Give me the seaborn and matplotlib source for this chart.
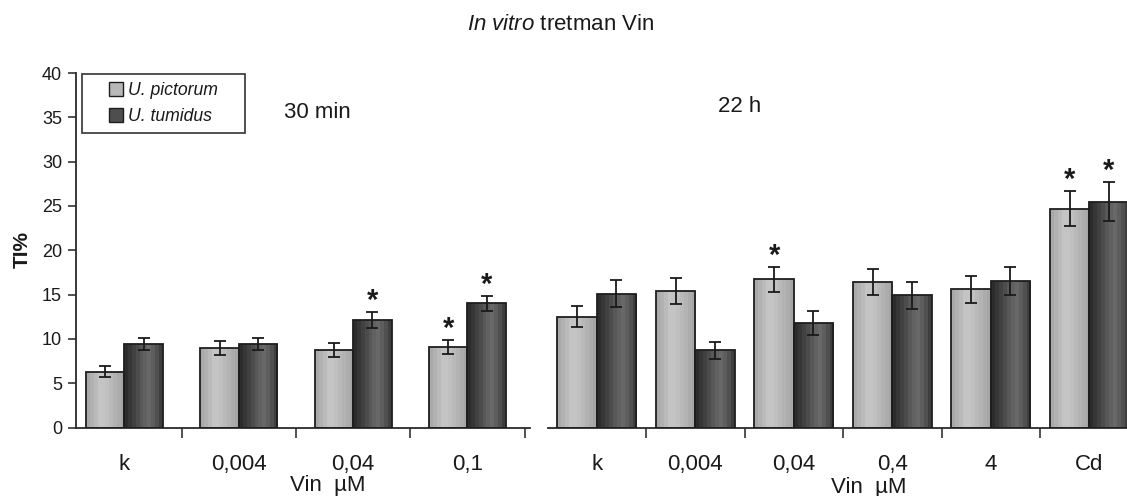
import numpy as np
import pandas as pd
import matplotlib
matplotlib.use("Agg")
import matplotlib.pyplot as plt
from matplotlib.colors import LinearSegmentedColormap
from matplotlib.lines import Line2D
import seaborn as sns

# ---------------- data ----------------
species = ["U. pictorum", "U. tumidus"]

cats_30 = ["k", "0,004", "0,04", "0,1"]
pict_30 = [6.3, 9.0, 8.7, 9.1]
pict_30_err = [0.6, 0.8, 0.8, 0.8]
tum_30 = [9.4, 9.4, 12.1, 14.0]
tum_30_err = [0.7, 0.7, 0.9, 0.8]
stars_30 = [("0,04", "U. tumidus"), ("0,1", "U. pictorum"), ("0,1", "U. tumidus")]

cats_22 = ["k", "0,004", "0,04", "0,4", "4", "Cd"]
pict_22 = [12.5, 15.4, 16.7, 16.4, 15.6, 24.7]
pict_22_err = [1.2, 1.5, 1.4, 1.5, 1.5, 2.0]
tum_22 = [15.1, 8.7, 11.8, 14.9, 16.5, 25.5]
tum_22_err = [1.5, 1.0, 1.4, 1.5, 1.6, 2.2]
stars_22 = [("0,04", "U. pictorum"), ("Cd", "U. pictorum"), ("Cd", "U. tumidus")]

yticks = [0, 5, 10, 15, 20, 25, 30, 35, 40]

# ---------------- style ----------------
sns.set_theme(style="white")
plt.rcParams["font.family"] = ["Liberation Sans", "DejaVu Sans"]
plt.rcParams["mathtext.fontset"] = "custom"
plt.rcParams["mathtext.rm"] = "Liberation Sans"
plt.rcParams["mathtext.it"] = "Liberation Sans:italic"

TXT = "#1a1a1a"
light_stops = ["#a9a9a9", "#b6b6b6", "#c4c4c4", "#c4c4c4", "#b9b9b9", "#b0b0b0", "#a6a6a6"]
dark_stops = ["#2c2c2c", "#3c3c3c", "#4c4c4c", "#5e5e5e", "#686868", "#5a5a5a", "#3e3e3e"]
cmaps = {
    "U. pictorum": LinearSegmentedColormap.from_list("lg", light_stops, N=10),
    "U. tumidus": LinearSegmentedColormap.from_list("dg", dark_stops, N=10),
}
solid = {"U. pictorum": "#b8b8b8", "U. tumidus": "#4e4e4e"}

W, H = 1127, 496
fig = plt.figure(figsize=(W / 100, H / 100), dpi=100)

base_px = 427.5
top_px = 73
bottom = (H - base_px) / H
height = (base_px - top_px) / H

ax1 = fig.add_axes([76 / W, bottom, 454 / W, height])
ax2 = fig.add_axes([547.5 / W, bottom, (1138.5 - 547.5) / W, height])


def make_df(cats, p, pe, t, te):
    rows = []
    for c, v, e in zip(cats, p, pe):
        rows.append((c, species[0], v, e))
    for c, v, e in zip(cats, t, te):
        rows.append((c, species[1], v, e))
    return pd.DataFrame(rows, columns=["cat", "species", "val", "err"])


def draw_panel(ax, df, cats, width, stars, xlim):
    sns.barplot(data=df, x="cat", y="val", hue="species", order=cats,
                hue_order=species, palette=solid, errorbar=None,
                width=width, edgecolor="#1e1e1e", linewidth=1.3,
                legend=False, ax=ax)
    for sp, cont in zip(species, ax.containers):
        sub = df[df.species == sp].set_index("cat").loc[cats]
        xs, hs = [], []
        for bar in cont:
            x0, w, h = bar.get_x(), bar.get_width(), bar.get_height()
            grad = np.linspace(0, 1, 256).reshape(1, -1)
            im = ax.imshow(grad, cmap=cmaps[sp], extent=[x0, x0 + w, 0, h],
                           aspect="auto", zorder=2, interpolation="nearest")
            im.set_clip_path(bar)
            bar.set_facecolor("none")
            bar.set_zorder(3)
            xs.append(x0 + w / 2)
            hs.append(h)
        ax.errorbar(xs, hs, yerr=sub["err"].values, fmt="none",
                    ecolor="#1a1a1a", elinewidth=1.3, capsize=4,
                    capthick=1.3, zorder=5)
        for (c, s) in stars:
            if s == sp:
                i = cats.index(c)
                ax.text(xs[i], hs[i] + sub["err"].values[i] + 0.35, "*",
                        ha="center", va="baseline", fontsize=21,
                        fontweight="bold", color=TXT, zorder=6)
    ax.set_xlim(*xlim)
    ax.set_ylim(0, 40)
    ax.set_xlabel("")
    ax.set_ylabel("")
    n = len(cats)
    ax.set_xticks(range(n))
    ax.set_xticklabels(cats, fontsize=16, color=TXT)
    ax.set_xticks([i + 0.5 for i in range(n)], minor=True)
    ax.tick_params(axis="x", which="major", length=0, pad=19, bottom=True)
    ax.tick_params(axis="x", which="minor", length=7, width=1.2,
                   color="#333333", direction="out", bottom=True)
    for s in ["top", "right"]:
        ax.spines[s].set_visible(False)
    ax.spines["bottom"].set_color("#2a2a2a")
    ax.spines["bottom"].set_linewidth(1.3)


df30 = make_df(cats_30, pict_30, pict_30_err, tum_30, tum_30_err)
df22 = make_df(cats_22, pict_22, pict_22_err, tum_22, tum_22_err)

draw_panel(ax1, df30, cats_30, 0.674, stars_30, (-0.424, 3.548))
draw_panel(ax2, df22, cats_22, 0.80, stars_22, (-0.5, 5.5))

# y axis only on left panel
ax1.set_yticks(yticks)
ax1.set_yticklabels([str(v) for v in yticks], fontsize=13, color=TXT)
ax1.tick_params(axis="y", length=6, width=1.2, color="#333333",
                direction="out", pad=4, left=True)
ax1.spines["left"].set_color("#2a2a2a")
ax1.spines["left"].set_linewidth(1.3)
ax2.spines["left"].set_visible(False)
ax2.set_yticks([])

# legend
handles = [Line2D([], [], marker="s", linestyle="none", markersize=10,
                  markerfacecolor=solid[s], markeredgecolor="#1e1e1e",
                  markeredgewidth=1.0) for s in species]
leg = ax1.legend(handles, species, loc="upper left",
                 bbox_to_anchor=(82 / W, 1 - 130 / H, 163 / W, 56 / H),
                 bbox_transform=fig.transFigure, mode="expand",
                 borderaxespad=0, frameon=True, fancybox=False,
                 framealpha=1, edgecolor="#333333",
                 prop={"style": "italic", "size": 12.7},
                 handlelength=2.9, handletextpad=-0.75,
                 labelspacing=0.5, borderpad=0.45)
leg.get_frame().set_linewidth(1.2)
for t in leg.get_texts():
    t.set_color(TXT)

# texts
fig.text(561 / W, 1 - 24 / H, r"$\mathit{In\ vitro}$ tretman Vin",
         ha="center", va="center", fontsize=16, color=TXT)
fig.text(317 / W, 1 - 112 / H, "30 min", ha="center", va="center",
         fontsize=16, color=TXT)
fig.text(740 / W, 1 - 107 / H, "22 h", ha="center", va="center",
         fontsize=16, color=TXT)
fig.text(328 / W, 1 - 485 / H, "Vin  \u00b5M", ha="center", va="center",
         fontsize=16, color=TXT)
fig.text(869 / W, 1 - 487 / H, "Vin  \u00b5M", ha="center", va="center",
         fontsize=16, color=TXT)
fig.text(22 / W, 1 - 250 / H, "TI%", ha="center", va="center",
         rotation=90, fontsize=15, fontweight="bold", color=TXT)

fig.savefig("out.png", dpi=100)
